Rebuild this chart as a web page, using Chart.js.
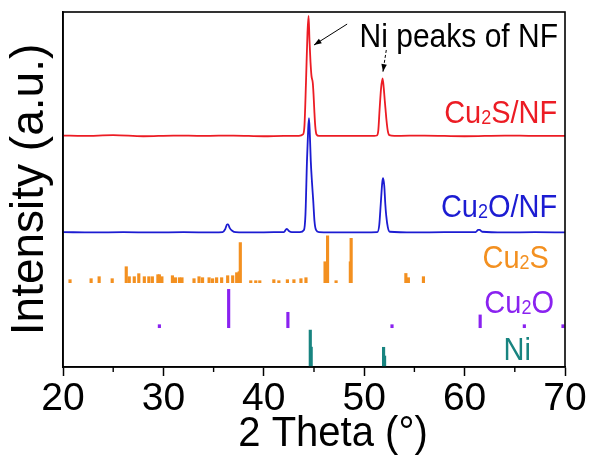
<!DOCTYPE html>
<html><head><meta charset="utf-8">
<script src="https://cdn.jsdelivr.net/npm/chart.js@4.4.1/dist/chart.umd.min.js"></script>
<style>html,body{margin:0;padding:0;background:#fff;}</style>
</head><body>
<canvas id="c" width="592" height="461"></canvas>
<script>
// ---------- data ----------
const xTickValues = [20, 30, 40, 50, 60, 70];

// Cu2S/NF measured pattern (offset intensity, a.u.)
const cu2sNfX = [20, 22, 25, 28, 31, 34, 37, 40, 42, 43.5, 43.9, 44.05, 44.2, 44.35, 44.46, 44.55, 44.65, 44.75, 44.88, 44.95, 45.03, 45.12, 45.25, 45.5, 48, 51, 51.25, 51.4, 51.53, 51.68, 51.83, 51.95, 52.05, 52.13, 52.22, 52.35, 52.5, 53, 56, 60, 64, 67, 70];
const cu2sNfY = [65.2, 65.1, 65.3, 65.0, 65.2, 65.1, 65.2, 65.0, 65.1, 65.1, 65.5, 68, 80, 94, 98.9, 92, 86, 82, 80, 77, 72.4, 68, 65.5, 65.1, 65.1, 65.1, 65.2, 66.5, 72.4, 78.5, 81.3, 78.5, 75, 72.4, 69.5, 66.5, 65.3, 65.1, 65.2, 65.0, 65.2, 65.1, 65.1];

// Cu2O/NF measured pattern
const cu2oNfX = [20, 23, 26, 29, 32, 35, 35.9, 36.15, 36.35, 36.45, 36.6, 36.85, 37.2, 39, 41, 42.0, 42.2, 42.3, 42.5, 42.8, 43.6, 44.0, 44.15, 44.3, 44.42, 44.5, 44.58, 44.68, 44.8, 44.92, 45.05, 45.2, 45.5, 48, 51.3, 51.5, 51.65, 51.8, 51.88, 52.0, 52.1, 52.2, 52.35, 52.55, 55, 58, 61.1, 61.35, 61.5, 61.75, 64, 67, 70];
const cu2oNfY = [38.0, 37.9, 38.0, 37.9, 38.0, 37.9, 38.0, 38.8, 40.2, 40.2, 39.2, 38.4, 38.0, 37.9, 38.0, 38.0, 38.7, 38.9, 38.3, 38.0, 38.0, 38.6, 43, 58, 67, 70.1, 66, 58, 52, 47, 41, 38.6, 38.0, 37.9, 38.0, 40, 46, 52, 53.2, 51, 46, 42.5, 39.4, 38.1, 37.9, 38.0, 38.0, 38.6, 38.6, 38.1, 37.9, 38.0, 37.9];

// Reference stick patterns: positions (2θ) and relative heights
const cu2sRefBase = 23.75;
const cu2sRefPos = [20.7, 22.8, 23.6, 24.9, 26.3, 26.6, 27.1, 27.55, 28.1, 28.55, 28.9, 29.45, 29.6, 29.85, 30.9, 31.2, 31.6, 31.85, 33.05, 33.55, 33.9, 34.55, 34.9, 35.3, 35.8, 36.4, 36.9, 37.3, 37.55, 37.66, 38.7, 39.2, 39.6, 41.0, 41.5, 42.35, 43.0, 43.7, 44.2, 46.1, 46.35, 47.2, 48.62, 48.7, 54.15, 54.4, 55.9];
const cu2sRefH   = [0.85, 1.13, 1.69, 1.13, 4.5, 1.69, 1.69, 2.54, 1.69, 1.69, 1.69, 2.25, 2.25, 1.69, 1.97, 1.41, 1.41, 1.41, 1.13, 1.69, 1.41, 1.41, 1.13, 1.41, 1.41, 1.97, 1.97, 2.82, 3.1, 11.3, 0.56, 0.56, 0.56, 0.85, 0.56, 0.85, 0.85, 1.13, 1.41, 5.9, 13.2, 0.56, 5.9, 12.5, 2.6, 1.41, 1.7];

const cu2oRefBase = 11.07;
const cu2oRefPos = [29.6, 36.5, 42.4, 52.77, 61.55, 65.95, 69.8];
const cu2oRefH   = [0.85, 10.8, 4.34, 0.85, 3.6, 0.85, 0.85];

const niRefBase = 0;
const niRefPos = [44.63, 44.72, 51.93, 52.03];
const niRefH   = [10.4, 5.6, 5.55, 3.1];

// Text
const labelTexts  = ['Ni peaks of NF', 'Cu₂S/NF', 'Cu₂O/NF', 'Cu₂S', 'Cu₂O', 'Ni'];
const xTitle = '2 Theta (°)';
const yTitle = 'Intensity (a.u.)';

// ---------- styles / positions ----------
const FONT = "'Liberation Sans', Arial, sans-serif";
const RED = '#ec1c24', BLUE = '#1c1cd2', ORANGE = '#f39020', PURPLE = '#8a22f0', TEAL = '#188480';
const labelColors = ['#000', RED, BLUE, ORANGE, PURPLE, TEAL];
const labelRightX = [69.3, 69.23, 69.23, 68.4, 68.9, 66.6];
const labelBaseY  = [90.1, 68.7, 42.3, 27.9, 15.2, 2.0];
const labelSize   = [30, 29, 29, 29, 29, 29];
// arrows: [x1, y1, x2(tip), y2(tip), dashed]
const arrows = [[48.3, 96.6, 45.0, 90.7, false], [52.2, 89.3, 51.87, 83.2, true]];

const toPts = (xs, ys) => xs.map((x, i) => ({x: x, y: ys[i]}));
const sticks = (pos, h, base) => pos.map((x, i) => ({x: x, y: [base, base + h[i]]}));

function drawSubText(ctx, text, xRight, yBase, size, color) {
  const sub = Math.round(size * 0.62);
  const segs = text.split('₂');
  ctx.font = size + 'px ' + FONT;
  const mainW = segs.map(s => ctx.measureText(s).width);
  ctx.font = sub + 'px ' + FONT;
  const subW = ctx.measureText('2').width;
  const total = mainW.reduce((a, b) => a + b, 0) + subW * (segs.length - 1);
  ctx.save();
  ctx.translate(xRight - total, yBase);
  ctx.scale(1, 1.08);
  let x = 0;
  ctx.fillStyle = color;
  ctx.textBaseline = 'alphabetic';
  ctx.textAlign = 'left';
  segs.forEach((s, i) => {
    ctx.font = size + 'px ' + FONT;
    ctx.fillText(s, x, 0);
    x += mainW[i];
    if (i < segs.length - 1) {
      ctx.font = sub + 'px ' + FONT;
      ctx.fillText('2', x, 1);
      x += subW;
    }
  });
  ctx.restore();
}

function drawArrow(ctx, x1, y1, x2, y2, dashed) {
  ctx.save();
  ctx.strokeStyle = '#000'; ctx.fillStyle = '#000'; ctx.lineWidth = 1;
  if (dashed) ctx.setLineDash([3, 2]);
  ctx.beginPath(); ctx.moveTo(x1, y1); ctx.lineTo(x2, y2); ctx.stroke();
  ctx.setLineDash([]);
  const a = Math.atan2(y2 - y1, x2 - x1), L = 8, w = 0.35;
  ctx.beginPath();
  ctx.moveTo(x2, y2);
  ctx.lineTo(x2 - L * Math.cos(a - w), y2 - L * Math.sin(a - w));
  ctx.lineTo(x2 - L * Math.cos(a + w), y2 - L * Math.sin(a + w));
  ctx.closePath(); ctx.fill();
  ctx.restore();
}

const decor = {
  id: 'decor',
  afterDraw(chart) {
    const ctx = chart.ctx, xs = chart.scales.x, ys = chart.scales.y, a = chart.chartArea;
    ctx.save();
    // frame
    ctx.strokeStyle = '#000'; ctx.lineWidth = 1.6;
    ctx.strokeRect(a.left, a.top, a.right - a.left, a.bottom - a.top);
    // minor ticks
    ctx.lineWidth = 1.4;
    for (let v = xTickValues[0] + 5; v < xTickValues[xTickValues.length - 1]; v += 10) {
      const px = xs.getPixelForValue(v);
      ctx.beginPath(); ctx.moveTo(px, a.bottom); ctx.lineTo(px, a.bottom + 5); ctx.stroke();
    }
    // x axis title
    ctx.fillStyle = '#000';
    ctx.font = '40px ' + FONT;
    ctx.textAlign = 'center';
    ctx.textBaseline = 'alphabetic';
    ctx.save();
    ctx.translate(333, 446);
    ctx.scale(1, 1.08);
    ctx.fillText(xTitle, 0, 0);
    ctx.restore();
    // labels
    labelTexts.forEach((t, i) => {
      drawSubText(ctx, t, xs.getPixelForValue(labelRightX[i]), ys.getPixelForValue(labelBaseY[i]), labelSize[i], labelColors[i]);
    });
    arrows.forEach(r => drawArrow(ctx, xs.getPixelForValue(r[0]), ys.getPixelForValue(r[1]), xs.getPixelForValue(r[2]), ys.getPixelForValue(r[3]), r[4]));
    ctx.restore();
  }
};

const barDs = (data, color, label) => ({type: 'bar', label: label, data: data, backgroundColor: color, borderWidth: 0, barThickness: 2.5, grouped: false});

new Chart(document.getElementById('c'), {
  type: 'line',
  data: {
    datasets: [
      {type: 'line', label: 'Cu₂S/NF', data: toPts(cu2sNfX, cu2sNfY), borderColor: RED, borderWidth: 1.8, pointRadius: 0, cubicInterpolationMode: 'monotone', fill: false},
      {type: 'line', label: 'Cu₂O/NF', data: toPts(cu2oNfX, cu2oNfY), borderColor: BLUE, borderWidth: 1.8, pointRadius: 0, cubicInterpolationMode: 'monotone', fill: false},
      barDs(sticks(cu2sRefPos, cu2sRefH, cu2sRefBase), ORANGE, 'Cu₂S'),
      barDs(sticks(cu2oRefPos, cu2oRefH, cu2oRefBase), PURPLE, 'Cu₂O'),
      barDs(sticks(niRefPos, niRefH, niRefBase), TEAL, 'Ni')
    ]
  },
  options: {
    responsive: false, animation: false, devicePixelRatio: 1,
    layout: {padding: {top: 12, right: 27, left: 0, bottom: 0}},
    plugins: {legend: {display: false}, tooltip: {enabled: false}},
    scales: {
      x: {
        type: 'linear', min: xTickValues[0], max: xTickValues[xTickValues.length - 1], offset: false,
        ticks: {stepSize: 10, font: {family: FONT, size: 39}, color: '#000', padding: 0, maxRotation: 0, autoSkip: false},
        grid: {display: true, offset: false, drawOnChartArea: false, drawTicks: true, tickLength: 9, tickColor: '#000', tickWidth: 1.5},
        border: {display: true, color: '#000', width: 1.6},
        title: {display: false},
        afterFit: s => { s.height = 94; }
      },
      y: {
        type: 'linear', min: 0, max: 100,
        ticks: {display: false}, grid: {display: false},
        border: {display: true, color: '#000', width: 1.6},
        title: {display: true, text: yTitle, font: {family: FONT, size: 46}, color: '#000', padding: {top: 3, bottom: 0}},
        afterFit: s => { s.width = 63; }
      }
    }
  },
  plugins: [decor]
});
</script>
</body></html>
